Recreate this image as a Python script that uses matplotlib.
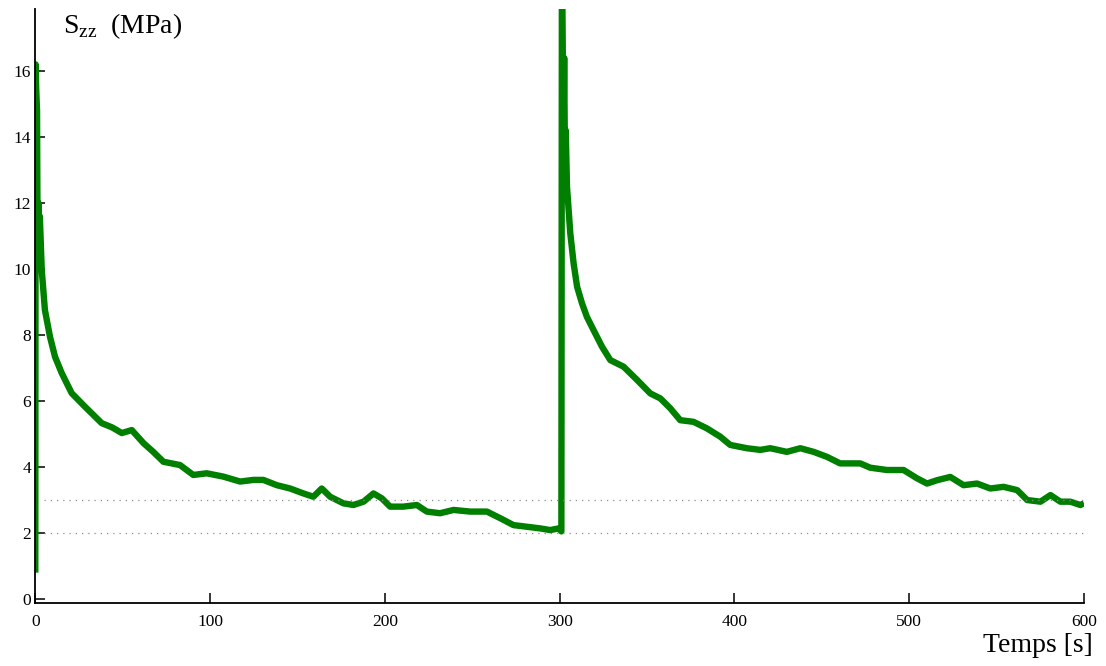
import matplotlib
matplotlib.use("Agg")
import matplotlib.pyplot as plt

# ---- data ----
t_first = [0, 0.2, 0.5, 1.0, 1.3, 1.8, 2.2, 2.6, 3.7, 5.5, 8.4, 11.3, 15.1, 20.8, 28.4,
           38, 44, 49.5, 55.2, 62, 67.5, 73.3, 82.8, 90.4, 98.1, 107.6, 117.2, 124.8,
           130.5, 138.2, 145.8, 153.4, 159.1, 163.9, 168.7, 176.3, 182, 187.8, 193.5,
           198.3, 203, 210.6, 218.3, 224, 231.6, 239.3, 248.8, 258.4, 266, 273.6, 281.3,
           288.9, 294.6, 299.4, 301.0]
s_first = [0.8, 16.2, 15.5, 14.8, 11.0, 12.0, 11.3, 11.6, 9.97, 8.76, 7.95, 7.34, 6.85,
           6.24, 5.83, 5.33, 5.2, 5.03, 5.12, 4.72, 4.46, 4.16, 4.06, 3.76, 3.81, 3.71,
           3.56, 3.61, 3.61, 3.45, 3.35, 3.2, 3.1, 3.35, 3.1, 2.9, 2.85, 2.95, 3.2, 3.05,
           2.8, 2.8, 2.85, 2.65, 2.6, 2.7, 2.65, 2.65, 2.45, 2.24, 2.19, 2.14, 2.09, 2.14,
           2.05]

t_second = [301.3, 301.8, 302.2, 302.6, 303.0, 303.5, 304.2, 306.1, 308, 310, 312.8,
            315.6, 319.4, 324.2, 329, 336.6, 344.3, 351.9, 357.6, 363.3, 369, 376.6,
            384.3, 391.9, 397.6, 407.1, 414.8, 420.5, 430, 437.7, 445.3, 452.9, 460.5,
            468.2, 472, 477.7, 487.3, 496.8, 504.4, 510.2, 515.9, 523.5, 531.1, 538.8,
            546.4, 554, 561.8, 567.5, 575.1, 580.8, 586.5, 592.2, 597.9, 600]
s_second = [19.5, 16.5, 14.0, 16.4, 13.5, 14.2, 12.5, 11.08, 10.17, 9.46, 8.96, 8.55,
            8.15, 7.65, 7.24, 7.04, 6.64, 6.23, 6.08, 5.78, 5.42, 5.37, 5.17, 4.92, 4.67,
            4.57, 4.52, 4.57, 4.46, 4.57, 4.46, 4.31, 4.11, 4.11, 4.11, 3.98, 3.91, 3.91,
            3.66, 3.5, 3.6, 3.7, 3.45, 3.5, 3.35, 3.4, 3.3, 3.0, 2.95, 3.15, 2.95, 2.95,
            2.85, 2.9]

ref_levels = [3, 2]
x_ticks = [0, 100, 200, 300, 400, 500, 600]
y_ticks = [0, 2, 4, 6, 8, 10, 12, 14, 16]

plt.rcParams['font.family'] = ['Liberation Serif', 'DejaVu Serif']
plt.rcParams['mathtext.fontset'] = 'custom'
plt.rcParams['mathtext.rm'] = 'Liberation Serif'

fig = plt.figure(figsize=(11.06, 6.66), dpi=100)
ax = fig.add_axes([0.0319, 0.0946, 0.9482, 0.8919])

t_all = t_first + t_second
s_all = s_first + s_second
ax.plot(t_all, s_all, color='#007f00', lw=4.6, solid_joinstyle='round',
        solid_capstyle='butt', zorder=2)

for lvl in ref_levels:
    ax.axhline(lvl, xmin=0.008, xmax=1.0, color='#8c8c8c', lw=0.9,
               linestyle=(0, (1, 4)), zorder=3)

ax.set_xlim(0, 600)
ax.set_ylim(-0.12, 17.88)
ax.set_xticks(x_ticks)
ax.set_yticks(y_ticks)
ax.set_xticklabels([str(v) for v in x_ticks])
ax.set_yticklabels([str(v) for v in y_ticks])

for side in ['top', 'right']:
    ax.spines[side].set_visible(False)
for side in ['left', 'bottom']:
    ax.spines[side].set_linewidth(1.3)
    ax.spines[side].set_color('black')

ax.tick_params(axis='both', direction='in', length=7, width=1.1, labelsize=12.5, colors='black')
ax.tick_params(axis='x', pad=8)
ax.tick_params(axis='y', pad=3)

fig.text(63 / 1106, 1 - 33 / 666, r'S$_{\mathrm{zz}}$  (MPa)', fontsize=20,
         ha='left', va='baseline')
fig.text(1093 / 1106, 1 - 652 / 666, 'Temps [s]', fontsize=20,
         ha='right', va='baseline')

fig.savefig('out.png', dpi=100)
